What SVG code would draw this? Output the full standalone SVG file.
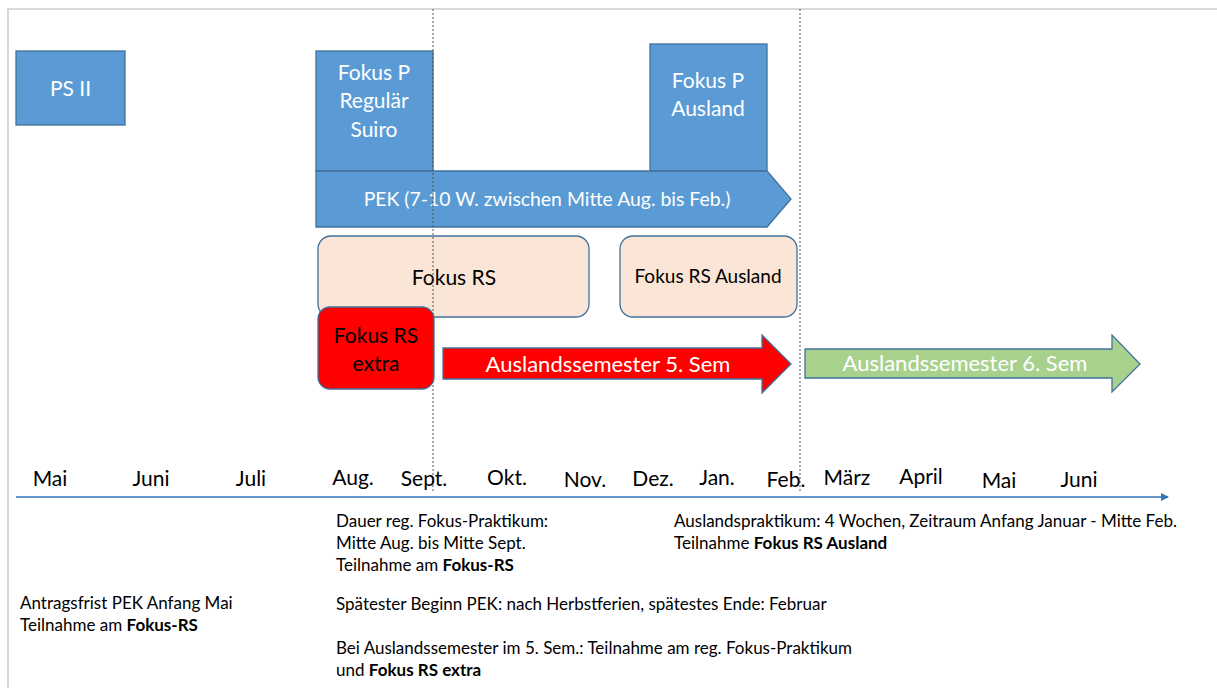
<svg xmlns="http://www.w3.org/2000/svg" width="1217" height="688" viewBox="0 0 1217 688">
<style>
text{font-family:Lato,"Liberation Sans",sans-serif}
.blue{fill:#5b9bd5;stroke:#41719c;stroke-width:1.3}
.wt{fill:#fff;font-size:21px;text-anchor:middle}
.bt{fill:#000;font-size:21px;text-anchor:middle}
.beige{fill:#fbe5d6;stroke:#41719c;stroke-width:1.3}
.mon{fill:#000;font-size:21px;text-anchor:middle}
.note{fill:#000;font-size:17px}
.b{font-weight:bold}
.dash{stroke:#555;stroke-width:1;stroke-dasharray:2 2;fill:none}
</style>
<defs>
<marker id="ah" markerWidth="8" markerHeight="8" refX="7" refY="4" orient="auto" markerUnits="userSpaceOnUse">
<path d="M0,0 L8,4 L0,8 Z" fill="#2e75b6"/>
</marker>
</defs>
<rect width="1217" height="688" fill="#fff"/>
<path d="M8,688 L8,9 L1217,9" fill="none" stroke="#d9d9d9" stroke-width="2"/>

<g id="ps2">
<rect class="blue" x="16" y="51" width="109" height="74"/>
<text class="wt" x="70.5" y="96">PS II</text>
</g>
<g id="fokus-p-regulaer">
<rect class="blue" x="316" y="51" width="117" height="120"/>
<text class="wt" x="374" y="80">Fokus P</text>
<text class="wt" x="374" y="108">Regulär</text>
<text class="wt" x="374" y="137">Suiro</text>
</g>
<g id="fokus-p-ausland">
<rect class="blue" x="650" y="44" width="117" height="127"/>
<text class="wt" x="708" y="88">Fokus P</text>
<text class="wt" x="708" y="116">Ausland</text>
</g>
<g id="pek">
<path class="blue" d="M316,171 L767,171 L791,199 L767,227 L316,227 Z"/>
<text class="wt" x="547" y="206" style="font-size:19.4px">PEK (7-10 W. zwischen Mitte Aug. bis Feb.)</text>
</g>
<g id="fokus-rs">
<rect class="beige" x="318" y="236" width="271" height="81" rx="13"/>
<text class="bt" x="454" y="285">Fokus RS</text>
</g>
<g id="fokus-rs-ausland">
<rect class="beige" x="620" y="236" width="177" height="81" rx="13"/>
<text class="bt" x="708" y="283" style="font-size:19px">Fokus RS Ausland</text>
</g>
<g id="fokus-rs-extra">
<rect x="318" y="307" width="116" height="82" rx="12" fill="#ff0000" stroke="#41719c" stroke-width="1.3"/>
<text class="bt" x="376" y="343">Fokus RS</text>
<text class="bt" x="376" y="371">extra</text>
</g>
<g id="auslandssemester-5">
<path d="M443,348 L762,348 L762,335 L791,364 L762,393 L762,379 L443,379 Z" fill="#ff0000" stroke="#41719c" stroke-width="1.3"/>
<text class="wt" x="608" y="372" style="font-size:22px">Auslandssemester 5. Sem</text>
</g>
<g id="auslandssemester-6">
<path d="M805,349 L1112,349 L1112,335 L1140,364 L1112,392 L1112,378 L805,378 Z" fill="#a9d18e" stroke="#41719c" stroke-width="1.3"/>
<text class="wt" x="965" y="371" style="font-size:22px">Auslandssemester 6. Sem</text>
</g>

<g id="connectors">
<line class="dash" x1="433" y1="9" x2="433" y2="492"/>
<line class="dash" x1="800" y1="9" x2="800" y2="492"/>
<line x1="16" y1="497" x2="1168" y2="497" stroke="#2e75b6" stroke-width="1.5" marker-end="url(#ah)"/>
</g>

<g id="months">
<text class="mon" x="50" y="486">Mai</text>
<text class="mon" x="151" y="486">Juni</text>
<text class="mon" x="251" y="486">Juli</text>
<text class="mon" x="353" y="485">Aug.</text>
<text class="mon" x="424" y="486">Sept.</text>
<text class="mon" x="507" y="485">Okt.</text>
<text class="mon" x="585" y="487">Nov.</text>
<text class="mon" x="653" y="486">Dez.</text>
<text class="mon" x="717" y="485">Jan.</text>
<text class="mon" x="786" y="487">Feb.</text>
<text class="mon" x="847" y="485">März</text>
<text class="mon" x="921" y="484">April</text>
<text class="mon" x="999" y="488">Mai</text>
<text class="mon" x="1079" y="487">Juni</text>
</g>

<g id="notes">
<text class="note" x="336" y="527">Dauer reg. Fokus-Praktikum:</text>
<text class="note" x="336" y="549">Mitte Aug. bis Mitte Sept.</text>
<text class="note" x="336" y="571">Teilnahme am <tspan class="b">Fokus-RS</tspan></text>
<text class="note" x="336" y="610">Spätester Beginn PEK: nach Herbstferien, spätestes Ende: Februar</text>
<text class="note" x="336" y="654">Bei Auslandssemester im 5. Sem.: Teilnahme am reg. Fokus-Praktikum</text>
<text class="note" x="336" y="676">und <tspan class="b">Fokus RS extra</tspan></text>
<text class="note" x="20" y="609">Antragsfrist PEK Anfang Mai</text>
<text class="note" x="20" y="631">Teilnahme am <tspan class="b">Fokus-RS</tspan></text>
<text class="note" x="674" y="527">Auslandspraktikum: 4 Wochen, Zeitraum Anfang Januar - Mitte Feb.</text>
<text class="note" x="674" y="549">Teilnahme <tspan class="b">Fokus RS Ausland</tspan></text>
</g>
</svg>
